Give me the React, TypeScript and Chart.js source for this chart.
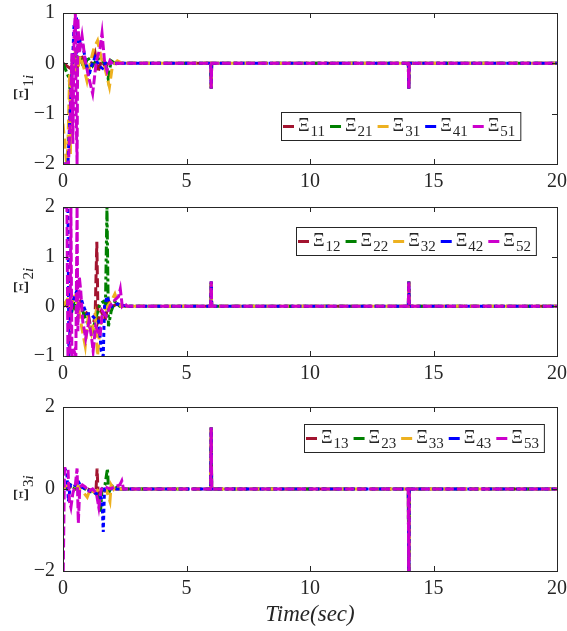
import { useEffect, useRef } from "react";
import { Chart, registerables } from "chart.js";

Chart.register(...registerables);

type Pt = [number, number];

// ---- transient responses (time [s], value) ----
// first row: Xi_{k1}
const xi11: Pt[] = [[0, 0], [0.3, -0.1], [0.45, 0.1], [0.6, -0.05], [0.75, 0.15], [0.9, 0], [1.05, -0.1], [1.2, 0.05], [1.3, 0.2], [1.42, -0.18], [1.55, 0.05], [1.7, -0.05], [1.9, 0.02], [2.1, 0], [2.6, 0]];
const xi21: Pt[] = [[0, 0], [0.25, -0.3], [0.3, -0.63], [0.38, 0.1], [0.5, 0.15], [0.7, 0.1], [0.85, -0.1], [1.0, 0.12], [1.2, -0.05], [1.4, 0.1], [1.6, 0.05], [1.75, -0.05], [1.83, -0.3], [1.95, 0.05], [2.1, 0], [2.6, 0]];
const xi31: Pt[] = [[0, -1.2], [0.15, -2], [0.2, -1.6], [0.27, -0.2], [0.3, -1.8], [0.35, -0.2], [0.45, 0.1], [0.55, -0.2], [0.7, 0.15], [0.85, -0.1], [0.97, -0.35], [1.1, 0], [1.25, 0.3], [1.4, 0.45], [1.55, 0.1], [1.7, -0.1], [1.88, -0.47], [2.0, -0.05], [2.2, 0.05], [2.4, 0], [2.6, 0]];
const xi41: Pt[] = [[0, -2], [0.2, -2], [0.3, -0.8], [0.4, 0.2], [0.45, 0.8], [0.55, 0.85], [0.6, 0.3], [0.7, 0.45], [0.8, 0.35], [0.9, 0.1], [1.05, -0.25], [1.15, -0.05], [1.3, 0.12], [1.45, -0.05], [1.6, -0.1], [1.75, 0.05], [1.9, 0], [2.6, 0]];
const xi51: Pt[] = [[0, -2], [0.22, -2], [0.3, -1.0], [0.36, 0.2], [0.4, -1.6], [0.45, 0.6], [0.5, 1.0], [0.53, -0.9], [0.57, -2], [0.6, 0.9], [0.66, 0.2], [0.77, 0.55], [0.9, 0.05], [1.05, -0.3], [1.2, -0.6], [1.35, 0.05], [1.5, 0.3], [1.58, 0.6], [1.68, 0.05], [1.78, -0.15], [1.9, 0.05], [2.05, -0.03], [2.2, 0], [2.6, 0]];

// second row: Xi_{k2}
const xi12: Pt[] = [[0, 0], [0.3, 0.1], [0.5, -0.05], [0.7, 0.1], [0.85, -0.2], [1.0, -0.1], [1.15, -0.5], [1.3, -0.2], [1.37, 1.3], [1.42, -0.3], [1.55, -0.1], [1.7, -0.3], [1.85, 0.1], [2.0, 0], [2.2, 0.05], [2.4, 0], [2.6, 0]];
const xi22: Pt[] = [[0, 0], [0.3, 0.15], [0.36, -0.1], [0.45, 0.1], [0.6, -0.2], [0.8, -0.1], [1.0, -0.35], [1.2, -0.5], [1.35, -0.2], [1.5, 0.05], [1.65, 0.1], [1.72, 0.05], [1.78, 2.0], [1.84, -0.4], [1.95, -0.1], [2.1, 0.1], [2.3, 0], [2.6, 0]];
const xi32: Pt[] = [[0, 0], [0.25, 0.2], [0.3, -0.1], [0.45, 0.25], [0.6, 0.05], [0.75, -0.4], [0.9, -0.8], [1.0, -0.3], [1.15, -0.55], [1.3, -0.2], [1.4, -1.0], [1.5, -0.4], [1.65, -0.1], [1.8, 0], [1.95, 0.1], [2.1, 0.25], [2.2, 0.1], [2.35, 0], [2.6, 0]];
const xi42: Pt[] = [[0, 2], [0.2, 2], [0.24, -1], [0.3, -0.2], [0.4, 0.1], [0.55, 0.3], [0.65, 0.3], [0.8, 0.05], [0.95, -0.15], [1.1, -0.15], [1.3, -0.25], [1.45, -0.3], [1.55, -0.9], [1.63, -1.0], [1.68, 0], [1.78, 0.2], [1.9, 0.05], [2.0, 0], [2.2, 0.05], [2.4, 0.02], [2.6, 0]];
const xi52: Pt[] = [[0, 2], [0.16, 2], [0.2, -1], [0.28, -0.9], [0.32, 2], [0.36, -1], [0.45, -0.9], [0.52, -1], [0.57, 2], [0.6, -0.5], [0.66, 0.6], [0.72, 0.3], [0.8, -0.3], [0.92, -0.65], [1.05, -0.3], [1.15, -0.6], [1.22, -0.9], [1.32, -0.4], [1.5, -0.6], [1.6, -0.1], [1.75, -0.2], [1.9, 0], [2.05, 0.1], [2.25, 0.2], [2.32, 0.35], [2.4, 0], [2.5, 0.05], [2.6, 0]];

// third row: Xi_{k3}
const xi13: Pt[] = [[0, 0], [0.3, 0.05], [0.5, 0], [0.8, 0.05], [1.0, 0], [1.2, -0.05], [1.33, -0.1], [1.38, 0.5], [1.42, -0.1], [1.55, 0], [1.7, -0.05], [1.9, 0], [2.6, 0]];
const xi23: Pt[] = [[0, 0], [0.3, 0.1], [0.5, 0], [0.8, 0.05], [1.0, -0.05], [1.3, -0.1], [1.45, -0.2], [1.52, -0.55], [1.58, 0], [1.7, 0.1], [1.8, 0.5], [1.85, -0.1], [1.95, 0.05], [2.1, 0.1], [2.2, 0], [2.6, 0]];
const xi33: Pt[] = [[0, 0], [0.2, 0.1], [0.35, 0], [0.55, 0.1], [0.7, 0], [0.85, -0.1], [0.98, -0.2], [1.1, 0], [1.3, -0.1], [1.45, 0], [1.6, -0.05], [1.75, 0], [1.9, -0.3], [1.95, 0.1], [2.05, 0], [2.15, 0.1], [2.3, 0], [2.6, 0]];
const xi43: Pt[] = [[0, 0.5], [0.15, 0.45], [0.22, -0.3], [0.3, 0.1], [0.45, 0.05], [0.6, 0.2], [0.75, 0.05], [0.9, 0], [1.1, -0.05], [1.3, -0.1], [1.5, -0.15], [1.58, -0.3], [1.63, -1.05], [1.68, 0], [1.8, 0.02], [2.0, 0], [2.6, 0]];
const xi53: Pt[] = [[0, -2.6], [0.06, 0.5], [0.2, 0.5], [0.26, -0.3], [0.32, -0.45], [0.4, -0.1], [0.5, 0.1], [0.57, 0.5], [0.62, -0.83], [0.68, 0.05], [0.78, 0.1], [0.9, 0.05], [1.05, -0.05], [1.2, 0], [1.35, -0.1], [1.45, -0.45], [1.55, 0], [1.7, 0.05], [1.9, 0], [2.1, 0.05], [2.3, 0.1], [2.38, 0.2], [2.45, 0], [2.6, 0]];

// disturbance spikes at t = 6 s and t = 14 s
const spikeTimes = [6, 14];
const spikes1 = [-0.5, -0.5];
const spikes2 = [0.5, 0.5];
const spikes3 = [1.5, -2.6];

const subs1 = ["11", "21", "31", "41", "51"];
const subs2 = ["12", "22", "32", "42", "52"];
const subs3 = ["13", "23", "33", "43", "53"];

const T_END = 20;
const X_STEP = 5;

const COLORS = ["#A2142F", "#008000", "#EDB120", "#0000FF", "#CC00CC"];
const DASHES = [[9, 4], [9, 3, 3, 3], [10, 5], [4, 3], [9, 3]];
const INK = "#262626";
const SERIF = "'Liberation Serif', serif";

function build(points: Pt[], spikes: number[]) {
  const out = points.map(([x, y]) => ({ x, y }));
  spikeTimes.forEach((t, i) => {
    out.push({ x: t - 0.02, y: 0 }, { x: t, y: spikes[i] }, { x: t + 0.02, y: 0 });
  });
  out.push({ x: T_END, y: 0 });
  return out;
}

const fmt = (v: number) => (v < 0 ? "\u2212" + Math.abs(v) : String(v));

// box, inward ticks, rotated y label and legend
const framePlugin = {
  id: "frame",
  afterDraw(chart: any, _args: any, opts: any) {
    const { ctx, chartArea: a, scales } = chart;
    ctx.save();
    ctx.strokeStyle = INK;
    ctx.lineWidth = 1;
    ctx.beginPath();
    scales.x.ticks.forEach((t: any) => {
      const px = Math.round(scales.x.getPixelForValue(t.value)) + 0.5;
      ctx.moveTo(px, a.bottom);
      ctx.lineTo(px, a.bottom - 5);
      ctx.moveTo(px, a.top);
      ctx.lineTo(px, a.top + 5);
    });
    scales.y.ticks.forEach((t: any) => {
      const py = Math.round(scales.y.getPixelForValue(t.value)) + 0.5;
      ctx.moveTo(a.left, py);
      ctx.lineTo(a.left + 5, py);
      ctx.moveTo(a.right, py);
      ctx.lineTo(a.right - 5, py);
    });
    ctx.stroke();
    ctx.strokeRect(Math.round(a.left) + 0.5, Math.round(a.top) + 0.5, Math.round(a.right - a.left), Math.round(a.bottom - a.top));

    // y label: Xi with subscript, rotated
    ctx.fillStyle = INK;
    ctx.translate(22, (a.top + a.bottom) / 2);
    ctx.rotate(-Math.PI / 2);
    ctx.font = `21px ${SERIF}`;
    const wXi = ctx.measureText("\u039E").width;
    ctx.font = `italic 15px ${SERIF}`;
    const wSub = ctx.measureText(opts.label).width;
    const x0 = -(wXi + wSub) / 2;
    ctx.textBaseline = "alphabetic";
    ctx.font = `21px ${SERIF}`;
    ctx.fillText("\u039E", x0, 6);
    ctx.font = `15px ${SERIF}`;
    const d = opts.label.slice(0, 1);
    const wd = ctx.measureText(d).width;
    ctx.fillText(d, x0 + wXi + 1, 11);
    ctx.font = `italic 15px ${SERIF}`;
    ctx.fillText(opts.label.slice(1), x0 + wXi + 1 + wd, 11);
    ctx.restore();

    // legend
    const lg = opts.legend;
    ctx.save();
    const items: { w1: number; w2: number }[] = [];
    let total = 2;
    opts.subs.forEach((s: string) => {
      ctx.font = `18px ${SERIF}`;
      const w1 = ctx.measureText("\u039E").width;
      ctx.font = `15px ${SERIF}`;
      const w2 = ctx.measureText(s).width;
      items.push({ w1, w2 });
      total += 11 + 4 + w1 + 1 + w2 + 5;
    });
    const bh = 28;
    ctx.fillStyle = "#fff";
    ctx.fillRect(lg.x, lg.y, total, bh);
    ctx.strokeStyle = INK;
    ctx.lineWidth = 1;
    ctx.strokeRect(lg.x + 0.5, lg.y + 0.5, total, bh);
    let cx = lg.x + 2;
    opts.subs.forEach((s: string, i: number) => {
      ctx.fillStyle = COLORS[i];
      ctx.fillRect(cx, lg.y + 13, 11, 3);
      cx += 15;
      ctx.fillStyle = INK;
      ctx.font = `18px ${SERIF}`;
      ctx.textBaseline = "alphabetic";
      ctx.fillText("\u039E", cx, lg.y + 19);
      cx += items[i].w1 + 1;
      ctx.font = `15px ${SERIF}`;
      ctx.fillText(s, cx, lg.y + 24);
      cx += items[i].w2 + 5;
    });
    ctx.restore();
  },
};

type PanelSpec = {
  top: number;
  height: number;
  padTop: number;
  xAxisH: number;
  ymin: number;
  ymax: number;
  ystep: number;
  label: string;
  series: Pt[][];
  subs: string[];
  spikes: number[];
  legend: { x: number; y: number };
  title?: string;
};

const PANELS: PanelSpec[] = [
  { top: 0, height: 195, padTop: 13, xAxisH: 31, ymin: -2, ymax: 1, ystep: 1, label: "1i", series: [xi11, xi21, xi31, xi41, xi51], subs: subs1, spikes: spikes1, legend: { x: 281, y: 112 } },
  { top: 195, height: 195, padTop: 12, xAxisH: 34, ymin: -1, ymax: 2, ystep: 1, label: "2i", series: [xi12, xi22, xi32, xi42, xi52], subs: subs2, spikes: spikes2, legend: { x: 296, y: 32 } },
  { top: 390, height: 241, padTop: 17, xAxisH: 60, ymin: -2, ymax: 2, ystep: 2, label: "3i", series: [xi13, xi23, xi33, xi43, xi53], subs: subs3, spikes: spikes3, legend: { x: 304, y: 34 }, title: "Time(sec)" },
];

function Panel({ spec }: { spec: PanelSpec }) {
  const ref = useRef<HTMLCanvasElement | null>(null);
  useEffect(() => {
    if (!ref.current) return;
    const zeroPad = (s: any) => {
      s.paddingLeft = 0;
      s.paddingRight = 0;
      s.paddingTop = 0;
      s.paddingBottom = 0;
    };
    const chart = new Chart(ref.current, {
      type: "line",
      data: {
        datasets: spec.series.map((pts, i) => ({
          label: "\u039E" + spec.subs[i],
          data: build(pts, spec.spikes),
          borderColor: COLORS[i],
          borderWidth: 3,
          borderDash: DASHES[i],
          pointRadius: 0,
          tension: 0,
          fill: false,
          order: 4 - i,
        })),
      },
      options: {
        animation: false,
        responsive: false,
        maintainAspectRatio: false,
        parsing: false,
        layout: { padding: { left: 0, right: 10, top: spec.padTop, bottom: 0 } },
        plugins: {
          legend: { display: false },
          tooltip: { enabled: false },
          frame: { label: spec.label, subs: spec.subs, legend: spec.legend },
        } as any,
        scales: {
          x: {
            type: "linear",
            min: 0,
            max: T_END,
            ticks: { stepSize: X_STEP, color: INK, padding: 6, maxRotation: 0, font: { family: SERIF, size: 20 } },
            grid: { display: false, drawTicks: false },
            border: { display: false },
            title: spec.title
              ? { display: true, text: spec.title, color: INK, font: { family: SERIF, size: 23, style: "italic" }, padding: { top: 0, bottom: 2 } }
              : { display: false },
            afterFit: (s: any) => {
              s.height = spec.xAxisH;
              zeroPad(s);
            },
          },
          y: {
            type: "linear",
            min: spec.ymin,
            max: spec.ymax,
            ticks: { stepSize: spec.ystep, color: INK, padding: 8, font: { family: SERIF, size: 20 }, callback: (v: any) => fmt(Number(v)) },
            grid: { display: false, drawTicks: false },
            border: { display: false },
            afterFit: (s: any) => {
              s.width = 63;
              zeroPad(s);
            },
          },
        },
      },
      plugins: [framePlugin],
    } as any);
    return () => chart.destroy();
  }, [spec]);
  return (
    <canvas
      ref={ref}
      width={567}
      height={spec.height}
      style={{ position: "absolute", left: 0, top: spec.top, width: 567, height: spec.height }}
    />
  );
}

export default function App() {
  return (
    <div style={{ position: "fixed", left: 0, top: 0, width: 567, height: 631, background: "#fff", overflow: "hidden" }}>
      {PANELS.map((p, i) => (
        <Panel key={i} spec={p} />
      ))}
    </div>
  );
}
